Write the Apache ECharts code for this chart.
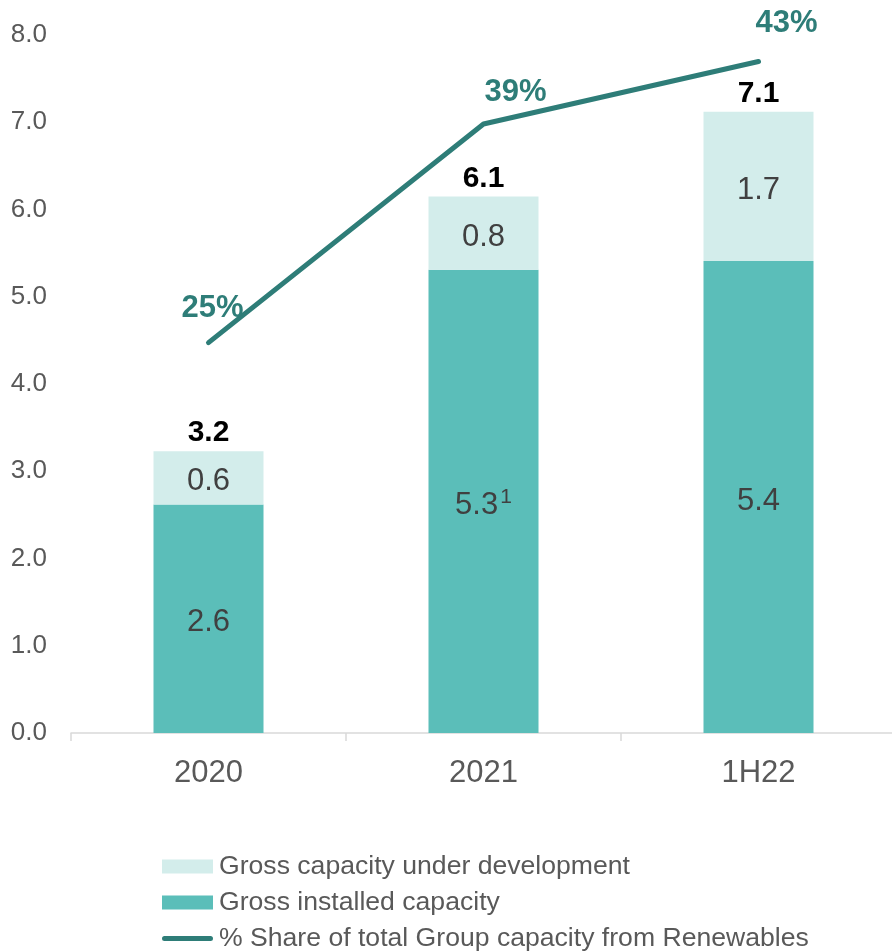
<!DOCTYPE html>
<html>
<head>
<meta charset="utf-8">
<style>
  html, body { margin: 0; padding: 0; background: #ffffff; overflow: hidden; }
  #chart { width: 900px; height: 1000px; }
</style>
<script src="https://cdn.jsdelivr.net/npm/echarts@6/dist/echarts.min.js"></script>
</head>
<body>
<div id="chart"></div>
<script>
const categories = ['2020', '2021', '1H22'];
const installedValues = [2.62, 5.31, 5.41];
const installedLabels = ['2.6', '5.3', '5.4'];
const installedNotes = ['', '1', ''];
const developmentValues = [0.61, 0.84, 1.71];
const developmentLabels = ['0.6', '0.8', '1.7'];
const totalLabels = ['3.2', '6.1', '7.1'];
const shareValues = [25, 39, 43];
const shareLabels = ['25%', '39%', '43%'];
const yTicks = [0, 1, 2, 3, 4, 5, 6, 7, 8];
const seriesNames = ['Gross capacity under development', 'Gross installed capacity', '% Share of total Group capacity from Renewables'];

const FONT = '"Liberation Sans", Arial, sans-serif';
const cInstalled = '#5BBEB9';
const cDev = '#D3EDEB';
const cLine = '#2E7D78';

const shareOffsets = [[4, -18], [32, -15], [28, -22]];

const lineIcon = 'path://M0,0L0.01,0L0,0.01Z M0,14L0.01,14L0,13.99Z M2.5,4.5L48.5,4.5A2.5,2.5,0,0,1,48.5,9.5L2.5,9.5A2.5,2.5,0,0,1,2.5,4.5Z';

const chart = echarts.init(document.getElementById('chart'), null, { renderer: 'canvas' });
chart.setOption({
  animation: false,
  backgroundColor: '#ffffff',
  textStyle: { fontFamily: FONT },
  grid: { left: 71, width: 825, top: 35, height: 698, containLabel: false },
  xAxis: {
    type: 'category',
    data: categories,
    axisLine: { show: true, lineStyle: { color: '#D9D9D9', width: 1.5 } },
    axisTick: { show: true, length: 8, lineStyle: { color: '#D9D9D9', width: 1.5 } },
    axisLabel: { color: '#595959', fontSize: 31, fontFamily: FONT, margin: 25 }
  },
  yAxis: [{
    type: 'value',
    min: yTicks[0],
    max: yTicks[yTicks.length - 1],
    interval: 1,
    splitLine: { show: false },
    axisLine: { show: false },
    axisTick: { show: false },
    axisLabel: { color: '#595959', fontSize: 26, fontFamily: FONT, margin: 24,
      formatter: v => v.toFixed(1) }
  }, {
    type: 'value',
    min: 0,
    max: 44.7,
    show: false,
    splitLine: { show: false }
  }],
  legend: {
    orient: 'vertical',
    left: 162,
    top: 853,
    padding: 0,
    itemWidth: 51,
    itemHeight: 14,
    itemGap: 9,
    data: [
      { name: seriesNames[0], icon: 'rect' },
      { name: seriesNames[1], icon: 'rect' },
      { name: seriesNames[2], icon: lineIcon, itemStyle: { color: cLine } }
    ],
    textStyle: { color: '#595959', fontSize: 26.6, fontFamily: FONT, lineHeight: 24, padding: [0, 0, 0, 1] }
  },
  series: [{
    name: seriesNames[1],
    type: 'bar',
    stack: 'cap',
    barWidth: 110,
    data: installedValues,
    itemStyle: { color: cInstalled },
    label: {
      show: true,
      position: 'inside',
      offset: [0, 4],
      formatter: p => installedNotes[p.dataIndex]
        ? '{m|' + installedLabels[p.dataIndex] + '}{s|' + installedNotes[p.dataIndex] + '}'
        : '{m|' + installedLabels[p.dataIndex] + '}',
      rich: {
        m: { fontSize: 31, color: '#404040', fontFamily: FONT },
        s: { fontSize: 21, color: '#404040', fontFamily: FONT, padding: [0, 0, 16, 2] }
      }
    }
  }, {
    name: seriesNames[0],
    type: 'bar',
    stack: 'cap',
    barWidth: 110,
    data: developmentValues,
    itemStyle: { color: cDev },
    label: {
      show: true,
      position: 'inside',
      offset: [0, 4],
      formatter: p => developmentLabels[p.dataIndex],
      fontSize: 31,
      color: '#404040',
      fontFamily: FONT
    }
  }, {
    name: 'totals',
    type: 'bar',
    stack: 'cap',
    barWidth: 110,
    data: categories.map(() => 0),
    itemStyle: { color: 'transparent' },
    legendHoverLink: false,
    label: {
      show: true,
      position: 'top',
      distance: 3,
      formatter: p => totalLabels[p.dataIndex],
      fontSize: 30,
      fontWeight: 'bold',
      color: '#000000',
      fontFamily: FONT
    }
  }, {
    name: seriesNames[2],
    type: 'line',
    yAxisIndex: 1,
    data: shareValues.map((v, i) => ({
      value: v,
      label: { offset: shareOffsets[i] }
    })),
    symbol: 'circle',
    symbolSize: 2,
    showSymbol: true,
    lineStyle: { color: cLine, width: 5, cap: 'round', join: 'round' },
    itemStyle: { color: cLine },
    label: {
      show: true,
      position: 'top',
      distance: 0,
      formatter: p => shareLabels[p.dataIndex],
      fontSize: 31,
      fontWeight: 'bold',
      color: cLine,
      fontFamily: FONT
    },
    z: 5
  }]
});
</script>
</body>
</html>
